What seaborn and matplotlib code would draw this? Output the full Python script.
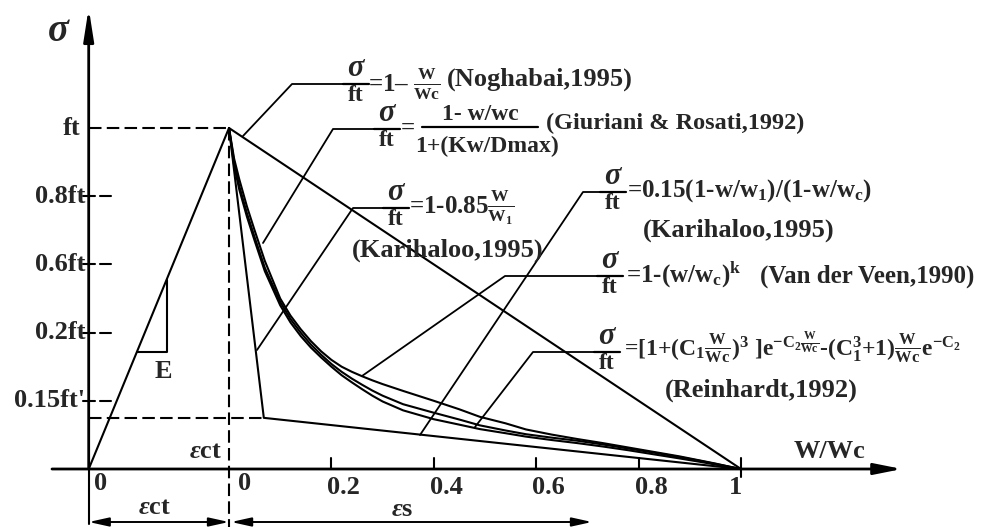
import matplotlib
matplotlib.use("Agg")
import matplotlib.pyplot as plt
import numpy as np
import pandas as pd
import seaborn as sns

# ---- data: tension softening curves, sigma/ft against w/wc ----
w_curve = [0, 0.01, 0.02, 0.035, 0.05, 0.07, 0.10, 0.12, 0.14, 0.16, 0.18, 0.20,
           0.22, 0.24, 0.26, 0.28, 0.30, 0.34, 0.40, 0.45, 0.49, 0.54, 0.58, 0.63,
           0.68, 0.73, 0.78, 0.83, 0.88, 0.92, 0.95, 0.98, 1.0]
s_veen = [1.0, 0.91, 0.85, 0.77, 0.70, 0.61, 0.50, 0.45, 0.41, 0.375, 0.345, 0.32,
          0.30, 0.285, 0.272, 0.26, 0.249, 0.229, 0.200, 0.175, 0.153, 0.134, 0.116,
          0.101, 0.088, 0.076, 0.063, 0.050, 0.037, 0.025, 0.016, 0.006, 0.0]
s_giuriani = [1.0, 0.90, 0.83, 0.75, 0.68, 0.59, 0.49, 0.44, 0.40, 0.365, 0.335, 0.308,
              0.285, 0.265, 0.247, 0.23, 0.215, 0.190, 0.165, 0.145, 0.128, 0.113, 0.102,
              0.092, 0.083, 0.072, 0.060, 0.048, 0.035, 0.024, 0.015, 0.006, 0.0]
s_reinhardt = [1.0, 0.89, 0.82, 0.74, 0.67, 0.58, 0.48, 0.43, 0.39, 0.356, 0.327, 0.30,
               0.275, 0.254, 0.234, 0.215, 0.198, 0.172, 0.146, 0.130, 0.117, 0.105, 0.095,
               0.085, 0.076, 0.066, 0.055, 0.043, 0.031, 0.021, 0.013, 0.005, 0.0]

# linear softening (Noghabai)
w_linear = [0.0, 1.0]
s_linear = [1.0, 0.0]

# bilinear softening (Karihaloo)
w_bilinear = [0.0, 0.068, 1.0]
s_bilinear = [1.0, 0.15, 0.0]

# elastic branch, drawn to the left of the crack-opening origin
eps_elastic = [-0.274, 0.0]
s_elastic = [0.0, 1.0]

# axis ticks
ytick_pos = [0.8, 0.6, 0.4, 0.2]
ytick_labels = ["0.8ft", "0.6ft", "0.2ft", "0.15ft'"]
xtick_pos = [0.2, 0.4, 0.6, 0.8, 1.0]
xtick_labels = ["0.2", "0.4", "0.6", "0.8", "1"]
s_kink = 0.15

# ---- style ----
sns.set_theme(style="white")
plt.rcParams["font.family"] = ["Liberation Serif", "DejaVu Serif"]
plt.rcParams["font.weight"] = "bold"
plt.rcParams["mathtext.fontset"] = "custom"
plt.rcParams["mathtext.rm"] = "Liberation Serif:bold"
plt.rcParams["mathtext.it"] = "Liberation Serif:italic:bold"
plt.rcParams["mathtext.bf"] = "Liberation Serif:bold"
plt.rcParams["mathtext.default"] = "rm"
plt.rcParams["lines.scale_dashes"] = False

fig = plt.figure(figsize=(10.08, 5.27), dpi=100)
ax = fig.add_axes([0, 0, 1, 1])

# pixel layout -> data units
X0, Y0, SX, SY = 229.0, 469.0, 512.0, 341.0
ax.set_xlim(-X0 / SX, (1008 - X0) / SX)
ax.set_ylim((Y0 - 527) / SY, Y0 / SY)
ax.set_axis_off()


def P(px, py):
    return (px - X0) / SX, (Y0 - py) / SY


K = "black"
LW = 1.5

# ---- curves ----
frames = []
for name, ws, ss in [("veen", w_curve, s_veen),
                     ("giuriani", w_curve, s_giuriani),
                     ("reinhardt", w_curve, s_reinhardt),
                     ("linear", w_linear, s_linear),
                     ("bilinear", w_bilinear, s_bilinear),
                     ("elastic", eps_elastic, s_elastic)]:
    frames.append(pd.DataFrame({"w": ws, "s": ss, "model": name}))
df = pd.concat(frames, ignore_index=True)
sns.lineplot(data=df, x="w", y="s", units="model", estimator=None, sort=False,
             color=K, lw=LW, ax=ax, legend=False)

# ---- axes with arrows ----
x_left = eps_elastic[0]
ax.annotate("", xy=P(902, 469), xytext=P(52, 469),
            arrowprops=dict(arrowstyle="-|>,head_length=1.4,head_width=0.28",
                            color=K, lw=2.0, shrinkA=0, shrinkB=0))
ax.annotate("", xy=P(88.7, 8), xytext=P(88.7, 469),
            arrowprops=dict(arrowstyle="-|>,head_length=1.6,head_width=0.25",
                            color=K, lw=2.0, shrinkA=0, shrinkB=0))
ax.plot([x_left, x_left], [0, P(0, 524)[1]], color=K, lw=LW)

# dashed guides
dash = (0, (9, 3.8))
ax.plot([x_left, 0], [1, 1], color=K, lw=LW, ls=dash)
ax.plot([0, 0], [1, P(0, 527)[1]], color=K, lw=LW, ls=dash)
ax.plot([x_left, w_bilinear[1]], [s_kink, s_kink], color=K, lw=LW, ls=dash)

TFS = 19
# y ticks: "+ -" marks
for yp, lab in zip(ytick_pos, ytick_labels):
    ax.plot([P(83, 0)[0], P(95, 0)[0]], [yp, yp], color=K, lw=LW)
    ax.plot([P(100, 0)[0], P(111, 0)[0]], [yp, yp], color=K, lw=LW)
    ax.text(P(85, 0)[0], yp, lab, ha="right", va="center", fontsize=TFS)
ax.text(P(80, 0)[0], 1.0, "ft", ha="right", va="center", fontsize=TFS)

# x ticks
for xp, lab in zip(xtick_pos, xtick_labels):
    bottom = P(0, 477)[1] if xp == 1.0 else 0.0
    ax.plot([xp, xp], [bottom, P(0, 458)[1]], color=K, lw=LW)
    ax.text(xp + 0.024 if xp < 1 else xp - 0.01, P(0, 488)[1], lab,
            ha="center", va="center", fontsize=TFS)
ax.text(*P(101, 484), "0", ha="center", va="center", fontsize=TFS)
ax.text(*P(245, 484), "0", ha="center", va="center", fontsize=TFS)

# axis names
ax.text(*P(59, 31), r"$\mathit{\sigma}$", ha="center", va="center", fontsize=28)
ax.text(*P(830, 452), "W/Wc", ha="center", va="center", fontsize=TFS)
ax.text(*P(206, 452), r"$\mathit{\varepsilon}$ct", ha="center", va="center", fontsize=TFS)

# modulus triangle
ax.plot([P(137, 0)[0], P(167, 0)[0], P(167, 0)[0]],
        [P(0, 352)[1], P(0, 352)[1], P(0, 280)[1]], color=K, lw=LW)
ax.text(*P(163, 371), "E", ha="center", va="center", fontsize=TFS)

# dimension lines at the bottom
dim_y = P(0, 522)[1]
arr = dict(arrowstyle="<|-|>,head_length=1.0,head_width=0.22", color=K, lw=1.4,
           shrinkA=0, shrinkB=0)
ax.annotate("", xy=(x_left, dim_y), xytext=(0, dim_y), arrowprops=arr)
ax.annotate("", xy=(0.004, dim_y), xytext=(P(592, 0)[0], dim_y), arrowprops=arr)
ax.text(*P(155, 507), r"$\mathit{\varepsilon}$ct", ha="center", va="center", fontsize=TFS)
ax.text(*P(402, 509), r"$\mathit{\varepsilon}$s", ha="center", va="center", fontsize=TFS)

# ---- leader lines ----
leaders = [
    [(243, 136), (292, 84), (343, 84)],
    [(263, 243), (333, 129), (374, 129)],
    [(257, 350), (353, 208), (383, 208)],
    [(420, 435), (583, 192), (600, 192)],
    [(362, 376), (505, 276), (597, 276)],
    [(475, 427), (533, 352), (594, 352)],
]
for pts in leaders:
    xs, ys = zip(*[P(*p) for p in pts])
    ax.plot(xs, ys, color=K, lw=1.3)


def sigma_over_ft(cx, by):
    """Stacked sigma / ft fraction with its bar at pixel height by."""
    ax.plot([P(cx - 13, 0)[0], P(cx + 13, 0)[0]], [P(0, by)[1]] * 2, color=K, lw=1.6)
    ax.text(*P(cx + 1, by - 1), r"$\mathit{\sigma}$", ha="center", va="bottom", fontsize=22)
    ax.text(*P(cx, by + 1), "ft", ha="center", va="top", fontsize=17)


FS = 18
CFS = 19

sigma_over_ft(356, 84)
ax.text(*P(368, 84), r"=1– $\frac{W}{Wc}$", ha="left", va="center", fontsize=FS)
ax.text(*P(447, 79), "(Noghabai,1995)", ha="left", va="center", fontsize=CFS)

sigma_over_ft(387, 129)
ax.text(*P(401, 128), "=", ha="left", va="center", fontsize=FS)
ax.text(*P(480, 114), "1- w/wc", ha="center", va="center", fontsize=17)
ax.plot([P(422, 0)[0], P(538, 0)[0]], [P(0, 127)[1]] * 2, color=K, lw=1.6)
ax.text(*P(415, 146), "1+(Kw/Dmax)", ha="left", va="center", fontsize=17)
ax.text(*P(546, 123), "(Giuriani & Rosati,1992)", ha="left", va="center", fontsize=17.5)

sigma_over_ft(396, 208)
ax.text(*P(409, 208), r"=1-0.85$\frac{W}{W_1}$", ha="left", va="center", fontsize=FS)
ax.text(*P(352, 250), "(Karihaloo,1995)", ha="left", va="center", fontsize=CFS)

sigma_over_ft(613, 192)
ax.text(*P(627, 191), r"=0.15(1-w/w$_1$)/(1-w/w$_c$)",
        ha="left", va="center", fontsize=FS)
ax.text(*P(643, 230), "(Karihaloo,1995)", ha="left", va="center", fontsize=CFS)

sigma_over_ft(610, 276)
ax.text(*P(626, 274), r"=1-(w/w$_c$)$^k$", ha="left", va="center", fontsize=FS)
ax.text(*P(760, 276), "(Van der Veen,1990)", ha="left", va="center", fontsize=18)

sigma_over_ft(607, 352)
ax.text(*P(624, 348),
        r"=[1+(C$_1\frac{W}{Wc})^3$ ]e$^{-C_2\frac{W}{Wc}}$-(C$_1^3$+1)$\frac{W}{Wc}$e$^{-C_2}$",
        ha="left", va="center", fontsize=17)
ax.text(*P(665, 390), "(Reinhardt,1992)", ha="left", va="center", fontsize=CFS)

fig.savefig("out.png", dpi=100, facecolor="white")
